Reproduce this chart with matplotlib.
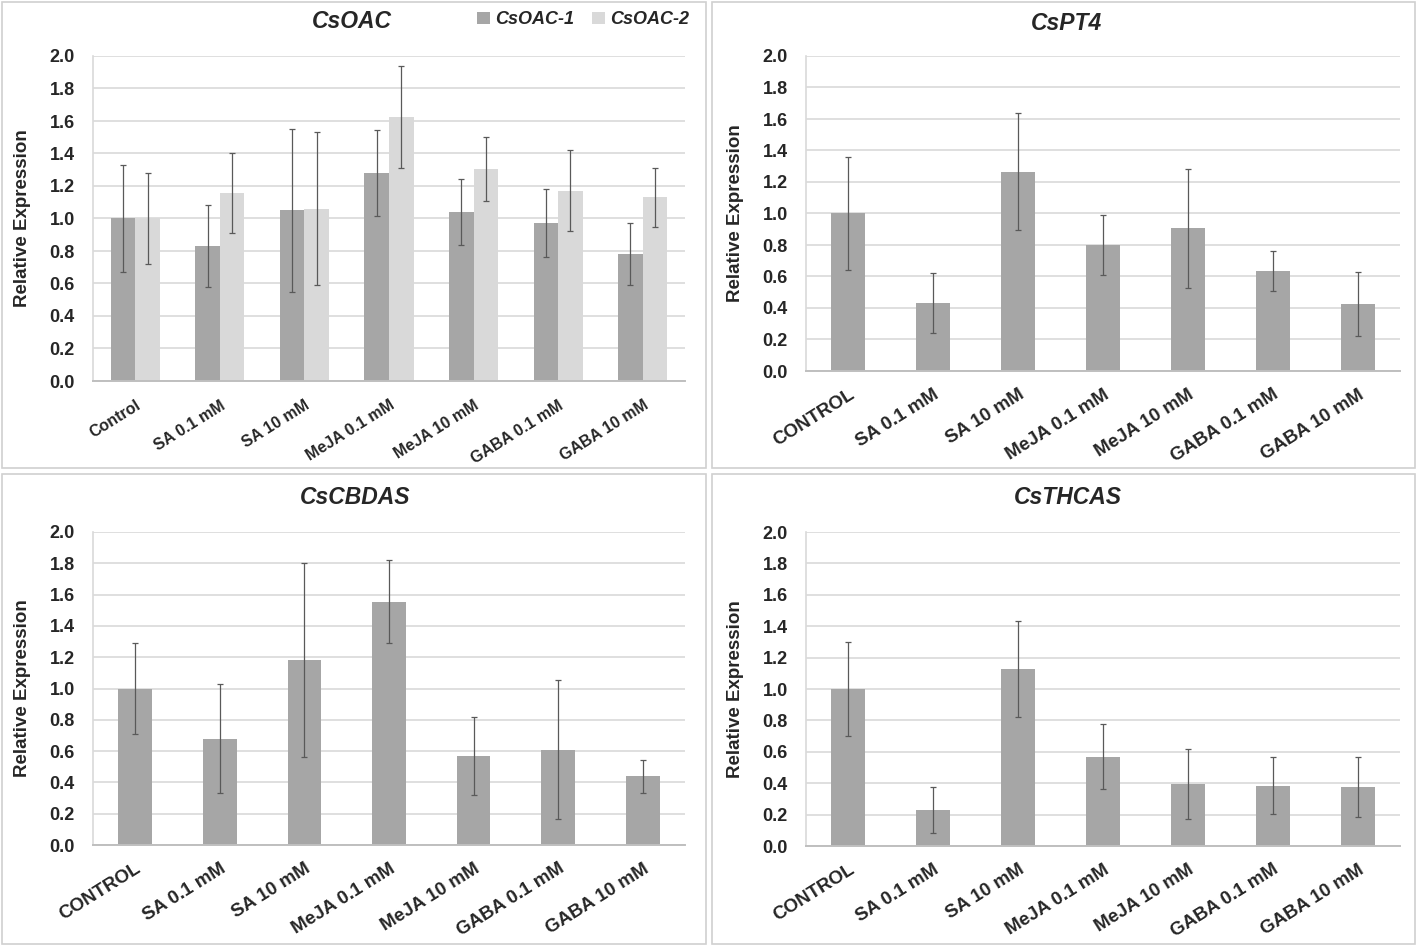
import matplotlib
matplotlib.use("Agg")
import matplotlib.pyplot as plt
import numpy as np
from matplotlib.patches import Rectangle

plt.rcParams['font.family'] = ['Liberation Sans', 'DejaVu Sans']

# treatments
cats_oac = ["Control", "SA 0.1 mM", "SA 10 mM", "MeJA 0.1 mM", "MeJA 10 mM",
            "GABA 0.1 mM", "GABA 10 mM"]
cats = ["CONTROL", "SA 0.1 mM", "SA 10 mM", "MeJA 0.1 mM", "MeJA 10 mM",
        "GABA 0.1 mM", "GABA 10 mM"]

# CsOAC (two genes)
oac1 = [1.00, 0.83, 1.05, 1.28, 1.04, 0.97, 0.78]
oac1_err = [0.33, 0.25, 0.50, 0.265, 0.205, 0.21, 0.19]
oac2 = [1.00, 1.155, 1.06, 1.625, 1.305, 1.17, 1.13]
oac2_err = [0.28, 0.245, 0.47, 0.315, 0.195, 0.25, 0.18]

# CsPT4
pt4 = [1.00, 0.43, 1.265, 0.80, 0.905, 0.635, 0.425]
pt4_err = [0.36, 0.19, 0.37, 0.19, 0.375, 0.13, 0.205]

# CsCBDAS
cbdas = [1.00, 0.68, 1.18, 1.555, 0.57, 0.61, 0.44]
cbdas_err = [0.29, 0.35, 0.62, 0.265, 0.25, 0.445, 0.105]

# CsTHCAS
thcas = [1.00, 0.23, 1.125, 0.57, 0.395, 0.385, 0.375]
thcas_err = [0.30, 0.145, 0.305, 0.21, 0.225, 0.18, 0.19]

dark = '#a6a6a6'
light = '#d9d9d9'
grid_c = '#d9d9d9'
err_c = '#595959'
txt_c = '#262626'

W, H = 1417, 946
fig = plt.figure(figsize=(W / 100, H / 100), dpi=100)

# panel frames
for (x0, y0, x1, y1) in [(2, 2, 706, 468), (712, 2, 1415, 468),
                         (2, 474, 706, 944), (712, 474, 1415, 944)]:
    fig.add_artist(Rectangle((x0 / W, 1 - y1 / H), (x1 - x0) / W, (y1 - y0) / H,
                             transform=fig.transFigure, fill=False,
                             edgecolor='#d0d0d0', lw=1.2))


def make_axes(l, r, top, bot):
    return fig.add_axes([l / W, 1 - bot / H, (r - l) / W, (bot - top) / H])


def style(ax, labels, xfs, xpad):
    ax.set_ylim(0, 2.0)
    ax.set_xlim(-0.5, 6.5)
    ax.set_yticks(np.arange(0, 2.01, 0.2))
    ax.set_yticklabels([f"{v:.1f}" for v in np.arange(0, 2.01, 0.2)],
                       fontsize=13, fontweight='bold', color=txt_c)
    ax.set_xticks(range(len(labels)))
    ax.set_xticklabels(labels, rotation=32, ha='right', rotation_mode='anchor',
                       fontsize=xfs, fontweight='bold', color=txt_c)
    ax.tick_params(axis='both', length=0)
    ax.tick_params(axis='y', pad=13)
    ax.tick_params(axis='x', pad=xpad)
    ax.grid(axis='y', color=grid_c, lw=1.2)
    ax.set_axisbelow(True)
    for s in ['top', 'right']:
        ax.spines[s].set_visible(False)
    ax.spines['left'].set_color(grid_c)
    ax.spines['left'].set_linewidth(1.2)
    ax.spines['bottom'].set_color('#bfbfbf')
    ax.spines['bottom'].set_linewidth(1.4)
    ax.set_ylabel("Relative Expression", fontsize=13.5, fontweight='bold', color=txt_c)
    ax.yaxis.set_label_coords(-0.105, 0.5)


ekw = dict(ecolor=err_c, elinewidth=0.9, capsize=2.2, capthick=0.9)
tkw = dict(ha='center', va='center', fontsize=16.5, fontweight='bold',
           fontstyle='italic', color=txt_c)

# CsOAC
ax1 = make_axes(93, 685, 56, 381)
x = np.arange(len(cats_oac))
bw = 0.29
ax1.bar(x - bw / 2, oac1, bw, yerr=oac1_err, color=dark, error_kw=ekw, label='CsOAC-1')
ax1.bar(x + bw / 2, oac2, bw, yerr=oac2_err, color=light, error_kw=ekw, label='CsOAC-2')
style(ax1, cats_oac, 11.5, 12)
fig.text(352 / W, 1 - 22 / H, "CsOAC", **tkw)
ax1.legend(loc='lower right', bbox_to_anchor=(1.035, 1.035), ncol=2, frameon=False,
           handlelength=0.7, handleheight=0.7, handletextpad=0.3, columnspacing=1.0,
           prop=dict(size=13, weight='bold', style='italic'), labelcolor=txt_c)

# CsPT4
ax2 = make_axes(806, 1400, 56, 371)
ax2.bar(x, pt4, 0.4, yerr=pt4_err, color=dark, error_kw=ekw)
style(ax2, cats, 13.5, 11)
fig.text(1066 / W, 1 - 24 / H, "CsPT4", **tkw)

# CsCBDAS
ax3 = make_axes(93, 685, 532, 845)
ax3.bar(x, cbdas, 0.4, yerr=cbdas_err, color=dark, error_kw=ekw)
style(ax3, cats, 13.5, 11)
fig.text(355 / W, 1 - 497 / H, "CsCBDAS", **tkw)

# CsTHCAS
ax4 = make_axes(806, 1400, 532, 846)
ax4.bar(x, thcas, 0.4, yerr=thcas_err, color=dark, error_kw=ekw)
style(ax4, cats, 13.5, 11)
fig.text(1068 / W, 1 - 498 / H, "CsTHCAS", **tkw)

fig.savefig("out.png", dpi=100)
